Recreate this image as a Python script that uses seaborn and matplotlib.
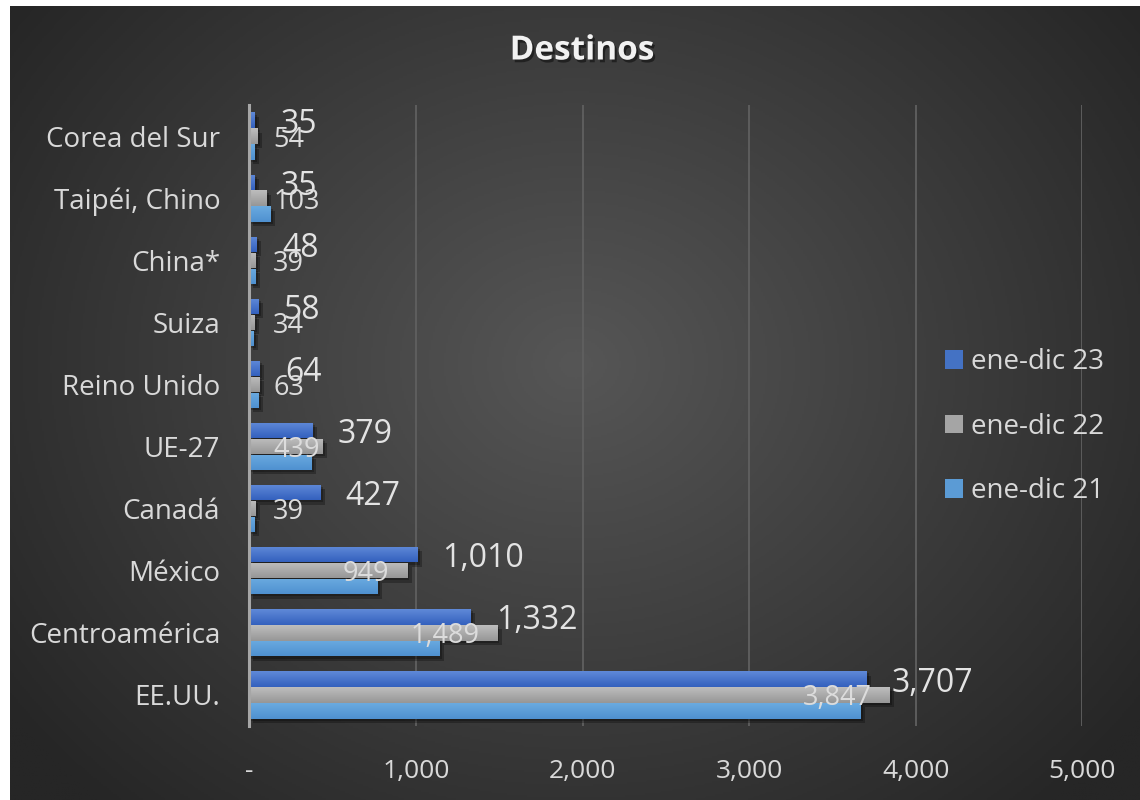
import numpy as np
import pandas as pd
import matplotlib
matplotlib.use('Agg')
import matplotlib.pyplot as plt
import seaborn as sns
import matplotlib.patheffects as pe
from matplotlib.patches import Patch
from matplotlib.colors import LinearSegmentedColormap

# ---------------- data ----------------
categories = ['Corea del Sur', 'Taipéi, Chino', 'China*', 'Suiza', 'Reino Unido',
              'UE-27', 'Canadá', 'México', 'Centroamérica', 'EE.UU.']
v23 = [35, 35, 48, 58, 64, 379, 427, 1010, 1332, 3707]
v22 = [54, 103, 39, 34, 63, 439, 39, 949, 1489, 3847]
v21 = [32, 130, 42, 30, 60, 376, 36, 772, 1145, 3672]
series = ['ene-dic 23', 'ene-dic 22', 'ene-dic 21']
colors = ['#4472C4', '#A5A5A5', '#5B9BD5']
xticks = [0, 1000, 2000, 3000, 4000, 5000]
xticklabels = ['-', '1,000', '2,000', '3,000', '4,000', '5,000']
title = 'Destinos'

df = pd.DataFrame({
    'Destino': categories * 3,
    'Valor': v23 + v22 + v21,
    'Serie': [s for s in series for _ in categories],
})

sns.set_theme(style='dark')
plt.rcParams['font.family'] = ['Open Sans', 'DejaVu Sans']

W, H = 1140, 800
fig = plt.figure(figsize=(W / 100, H / 100), dpi=100, facecolor='white')

# background radial gradient (styling)
bg = fig.add_axes([10 / W, 0, 1 - 10 / W, 1 - 6 / H], zorder=-10)
ny, nx = 400, 570
yy, xx = np.mgrid[0:ny, 0:nx]
cx, cy = nx * 0.50, ny * 0.45
d = np.sqrt(((xx - cx) / (nx * 0.62)) ** 2 + ((yy - cy) / (ny * 0.75)) ** 2)
d = np.clip(d, 0, 1)
bg_cmap = LinearSegmentedColormap.from_list('bg', ['#565656', '#262626'])
bg.imshow(d, cmap=bg_cmap, aspect='auto', extent=[0, 1, 0, 1], origin='upper', vmin=0, vmax=1)
bg.set_axis_off()

# main axes
x0p, x1p, y0p, y1p = 249.3, 1082.3, 105, 726
ax = fig.add_axes([x0p / W, 1 - y1p / H, (x1p - x0p) / W, (y1p - y0p) / H])
ax.set_facecolor('none')

sns.barplot(data=df, y='Destino', x='Valor', hue='Serie', order=categories,
            hue_order=series, palette=colors, orient='h', width=0.77, gap=0.04,
            saturation=1, errorbar=None, legend=False, linewidth=0, ax=ax)

ax.set_xlim(0, 5000)
ax.set_ylim(9.5, -0.5)
ax.set_xlabel('')
ax.set_ylabel('')
ax.set_xticks(xticks)
ax.set_xticklabels(xticklabels)
ax.xaxis.grid(True, color='#606060', lw=1.3)
ax.yaxis.grid(False)
ax.set_axisbelow(True)
for s in ['top', 'right', 'bottom']:
    ax.spines[s].set_visible(False)
ax.spines['left'].set_color('#a6a6a6')
ax.spines['left'].set_linewidth(2.2)
ax.spines['left'].set_zorder(5)
ax.tick_params(axis='x', length=0, pad=24, labelsize=19, colors='#d9d9d9')
ax.tick_params(axis='y', length=0, pad=21, labelsize=20, colors='#d9d9d9')

# bar shading & shadow
grads = [('#5F89D8', '#3461BE'), ('#BDBDBD', '#979797'), ('#6AAAE0', '#4F91D0')]
for ci, cont in enumerate(ax.containers):
    cmap = LinearSegmentedColormap.from_list('g%d' % ci, list(grads[ci]))
    for bar in cont:
        bar.set_path_effects([pe.SimplePatchShadow(offset=(3, -3), shadow_rgbFace='black', alpha=0.28),
                              pe.SimplePatchShadow(offset=(1.5, -1.5), shadow_rgbFace='black', alpha=0.25),
                              pe.Normal()])
        bx, by, bw, bh = bar.get_x(), bar.get_y(), bar.get_width(), bar.get_height()
        im = ax.imshow(np.linspace(0, 1, 32).reshape(-1, 1), cmap=cmap, aspect='auto',
                       extent=[bx, bx + bw, by + bh, by], origin='upper', zorder=bar.get_zorder() + 0.1)
        im.set_clip_path(bar)
ax.set_xlim(0, 5000)
ax.set_ylim(9.5, -0.5)

# data labels
lab23 = []
for bar in ax.containers[0]:
    v = bar.get_width()
    yc = bar.get_y() + bar.get_height() / 2
    lab23.append(ax.annotate(f'{v:,.0f}', (v, yc), xytext=(25, 0), textcoords='offset pixels',
                             ha='left', va='center_baseline', fontsize=23, color='#e3e3e3', zorder=10))
lab22 = []
for bar in ax.containers[1]:
    v = bar.get_width()
    yc = bar.get_y() + bar.get_height() / 2
    lab22.append(ax.annotate(f'{v:,.0f}', (v, yc), xytext=(-18, 0), textcoords='offset pixels',
                             ha='right', va='center_baseline', fontsize=19.5, color='#dcdcdc', zorder=10))

fig.canvas.draw()
r = fig.canvas.get_renderer()
minx = x0p + 24
for t in lab22:
    bb = t.get_window_extent(r)
    if bb.x0 < minx:
        dx = minx - bb.x0
        t.xyann = (t.xyann[0] + dx, t.xyann[1])

# legend
handles = [Patch(facecolor=c, edgecolor='none', label=s) for c, s in zip(colors, series)]
fig.legend(handles=handles, loc='upper left', bbox_to_anchor=(945 / W, 1 - 348 / H),
           frameon=False, fontsize=20, labelcolor='#d9d9d9', handlelength=0.65,
           handleheight=0.65, handletextpad=0.3, labelspacing=1.32, borderpad=0,
           borderaxespad=0)

# title
fig.text(582 / W, 1 - 51 / H, title, ha='center', va='center', fontsize=24,
         fontweight='bold', color='#f2f2f2',
         path_effects=[pe.SimplePatchShadow(offset=(1.5, -2), shadow_rgbFace='black', alpha=0.45),
                       pe.Normal()])

fig.savefig('out.png', dpi=100, facecolor=fig.get_facecolor())
